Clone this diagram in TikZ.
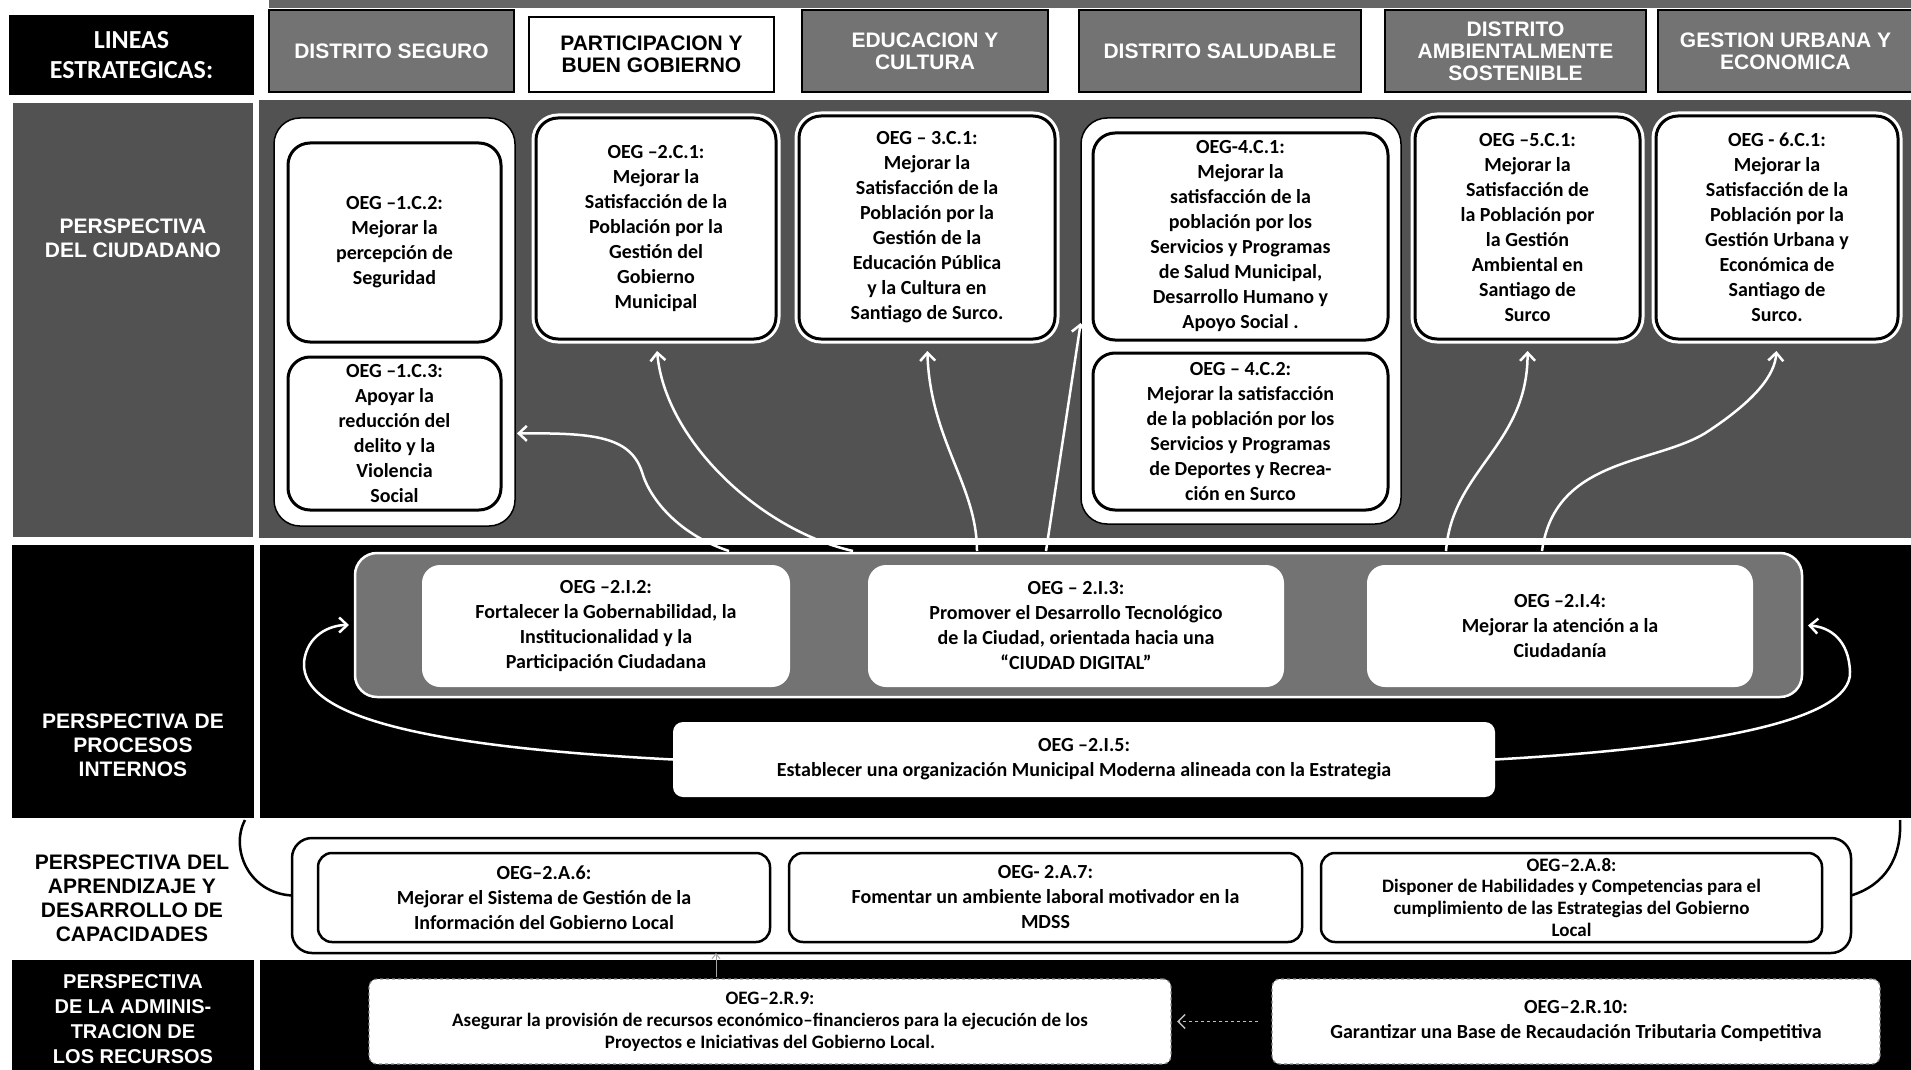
\documentclass[tikz,border=0pt]{standalone}
\usepackage{fontspec}
\setmainfont{Carlito}
\newfontfamily\hdfam{Liberation Sans}
\usetikzlibrary{arrows.meta}
\newcommand\mybx{\fontsize{20pt}{25pt}\selectfont\bfseries}
\newcommand\mysm{\fontsize{19pt}{22pt}\selectfont\bfseries}
\newcommand\myhd{\hdfam\bfseries\fontsize{21pt}{22pt}\selectfont}
\newcommand\mylb{\hdfam\bfseries\fontsize{21pt}{24pt}\selectfont}
\begin{document}
\begin{tikzpicture}[x=1pt,y=-1pt,
  every node/.style={inner sep=0pt,outer sep=0pt},
  hdr/.style={draw=black, line width=2.5pt, fill=black!55, text=white, align=center, font=\myhd, minimum height=82pt},
  lab/.style={align=center, font=\mylb},
  grp/.style={draw=black, line width=1.5pt, fill=white, rounded corners=26pt},
  cbox/.style={draw=black, line width=3pt, fill=white, rounded corners=22pt, align=center, font=\mybx, preaction={draw=white, line width=9pt}},
  igrp/.style={draw=white, line width=2.5pt, fill=black!55, rounded corners=22pt},
  ibox/.style={fill=white, rounded corners=18pt, align=center, font=\mybx},
  lgrp/.style={draw=black, line width=2.5pt, fill=white, rounded corners=20pt},
  lbox/.style={draw=black, line width=2.5pt, fill=white, rounded corners=14pt, align=center, font=\mybx},
  rbox/.style={draw=black!45, dashed, line width=1.2pt, fill=white, rounded corners=8pt, align=center, font=\mybx},
  warr/.style={draw=white, line width=2.5pt, -{Straight Barb[length=8pt,width=15pt]}},
  bcurve/.style={draw=black, line width=2.5pt}
]
\useasboundingbox (0,0) rectangle (1911,1070);
% background regions
\fill[black!60] (269,0) rectangle (1911,8);
\fill[black!68] (259,100) rectangle (1911,538);
\fill[black] (260,545) rectangle (1911,818);
\fill[black] (260,960) rectangle (1911,1070);

% header row
\node[fill=black, minimum width=245pt, minimum height=80pt, text=white, align=center,
      font=\fontsize{26pt}{30pt}\selectfont\bfseries] (lin) at (131.5,55) {LINEAS\\ESTRATEGICAS:};
\node[hdr, minimum width=245pt] (h1) at (391.5,51) {DISTRITO SEGURO};
\node[hdr, fill=white, text=black, minimum width=245pt, minimum height=75pt] (h2) at (651.5,54.5) {PARTICIPACION Y\\BUEN GOBIERNO};
\node[hdr, minimum width=246pt] (h3) at (925,51) {EDUCACION Y\\CULTURA};
\node[hdr, minimum width=282pt] (h4) at (1220,51) {DISTRITO SALUDABLE};
\node[hdr, minimum width=261pt] (h5) at (1515.5,51) {DISTRITO\\AMBIENTALMENTE\\SOSTENIBLE};
\node[hdr, minimum width=255pt] (h6) at (1785.5,51) {GESTION URBANA Y\\ECONOMICA};

% perspective labels
\node[fill=black!68, minimum width=240pt, minimum height=434pt] (pcbox) at (133,320) {};
\node[lab, text=white] (pct) at (133,238) {PERSPECTIVA\\DEL CIUDADANO};
\node[fill=black, minimum width=242pt, minimum height=273pt] (pibox) at (133,681.5) {};
\node[lab, text=white] (pit) at (133,745) {PERSPECTIVA DE\\PROCESOS\\INTERNOS};
\node[lab, text=black] (pat) at (132,898) {PERSPECTIVA DEL\\APRENDIZAJE Y\\DESARROLLO DE\\CAPACIDADES};
\node[fill=black, minimum width=242pt, minimum height=110pt] (prbox) at (133,1015) {};
\node[lab, text=white, font=\hdfam\bfseries\fontsize{20pt}{25pt}\selectfont] (prt) at (133,1019) {PERSPECTIVA\\DE LA ADMINIS-\\TRACION DE\\LOS RECURSOS};

% citizen perspective
\node[grp, minimum width=241pt, minimum height=408pt] (g1) at (394.5,322) {};
\node[cbox, minimum width=213pt, minimum height=199pt] (c12) at (394.5,242.5) {OEG –1.C.2:\\Mejorar la\\percepción de\\Seguridad};
\node[cbox, minimum width=213pt, minimum height=153pt] (c13) at (394.5,433.5) {OEG –1.C.3:\\Apoyar la\\reducción del\\delito y la\\Violencia\\Social};
\node[cbox, minimum width=240pt, minimum height=221pt] (c21) at (656,228.5) {OEG –2.C.1:\\Mejorar la\\Satisfacción de la\\Población por la\\Gestión del\\Gobierno\\Municipal};
\node[cbox, minimum width=256pt, minimum height=223pt] (c31) at (927,227.5) {OEG – 3.C.1:\\Mejorar la\\Satisfacción de la\\Población por la\\Gestión de la\\Educación Pública\\y la Cultura en\\Santiago de Surco.};
\node[grp, minimum width=320pt, minimum height=406pt] (g4) at (1241,321) {};
\node[cbox, minimum width=295pt, minimum height=207pt] (c41) at (1240.5,236.5) {OEG-4.C.1:\\Mejorar la\\satisfacción de la\\población por los\\Servicios y Programas\\de Salud Municipal,\\Desarrollo Humano y\\Apoyo Social .};
\node[cbox, minimum width=295pt, minimum height=157pt] (c42) at (1240.5,431.5) {OEG – 4.C.2:\\Mejorar la satisfacción\\de la población por los\\Servicios y Programas\\de Deportes y Recrea-\\ción en Surco};
\node[cbox, minimum width=225pt, minimum height=222pt] (c51) at (1527.5,228) {OEG –5.C.1:\\Mejorar la\\Satisfacción de\\la Población por\\la Gestión\\Ambiental en\\Santiago de\\Surco};
\node[cbox, minimum width=242pt, minimum height=223pt] (c61) at (1777,227.5) {OEG - 6.C.1:\\Mejorar la\\Satisfacción de la\\Población por la\\Gestión Urbana y\\Económica de\\Santiago de\\Surco.};

% internal processes
\node[igrp, minimum width=1447pt, minimum height=144pt] (gI) at (1078.5,625) {};
\node[ibox, minimum width=368pt, minimum height=122pt] (i2) at (606,626) {OEG –2.I.2:\\Fortalecer la Gobernabilidad, la\\Institucionalidad y la\\Participación Ciudadana};
\node[ibox, minimum width=416pt, minimum height=122pt] (i3) at (1076,626) {OEG – 2.I.3:\\Promover el Desarrollo Tecnológico\\de la Ciudad, orientada hacia una\\“CIUDAD DIGITAL”};
\node[ibox, minimum width=386pt, minimum height=122pt] (i4) at (1560,626) {OEG –2.I.4:\\Mejorar la atención a la\\Ciudadanía};
\node[ibox, rounded corners=10pt, minimum width=822pt, minimum height=75pt] (i5) at (1084,759.5) {OEG –2.I.5:\\Establecer una organización Municipal Moderna alineada con la Estrategia};

% learning
\node[lgrp, minimum width=1559pt, minimum height=115pt] (gA) at (1071.5,895.5) {};
\node[lbox, minimum width=452pt, minimum height=89pt] (a6) at (544,897.5) {OEG–2.A.6:\\Mejorar el Sistema de Gestión de la\\Información del Gobierno Local};
\node[lbox, minimum width=513pt, minimum height=89pt] (a7) at (1045.5,897.5) {OEG- 2.A.7:\\Fomentar un ambiente laboral motivador en la\\MDSS};
\node[lbox, font=\mysm, minimum width=501pt, minimum height=89pt] (a8) at (1571.5,897.5) {OEG–2.A.8:\\Disponer de Habilidades y Competencias para el\\cumplimiento de las Estrategias del Gobierno\\Local};

% resources
\node[rbox, font=\mysm, minimum width=802pt, minimum height=85pt] (r9) at (770,1021.5) {OEG–2.R.9:\\Asegurar la provisión de recursos económico–financieros para la ejecución de los\\Proyectos e Iniciativas del Gobierno Local.};
\node[rbox, minimum width=608pt, minimum height=85pt] (r10) at (1576,1021.5) {OEG–2.R.10:\\Garantizar una Base de Recaudación Tributaria Competitiva};

% connectors: internal -> citizen
\coordinate (s1) at (729,551);
\coordinate (s2) at (853,551);
\coordinate (s3) at (977,551);
\coordinate (s4) at (1046,551);
\coordinate (s5) at (1446,551);
\coordinate (s6) at (1542,551);
\draw[warr, shorten >=16pt] (s1) .. controls (680,535) and (650,500) .. (642,472) .. controls (630,435) and (590,433) .. (c13.east);
\draw[warr, shorten >=12pt] (s2) .. controls (760,530) and (665,440) .. (c21.south);
\draw[warr, shorten >=12pt] (s3) .. controls (977,485) and (930,440) .. (c31.south);
\draw[warr, shorten >=2pt] (s4) -- (g4.west);
\draw[warr, shorten >=12pt] (s5) .. controls (1452,470) and (1528,445) .. (c51.south);
\draw[warr, shorten >=12pt] (s6) .. controls (1555,455) and (1660,465) .. (1710,430) .. controls (1755,400) and (1775,375) .. (c61.south);

% loops in internal processes
\draw[warr, shorten >=6pt] (i5.west) .. controls (450,748) and (300,722) .. (304,662) .. controls (307,635) and (330,625) .. (gI.west);
\draw[warr, shorten >=6pt] (i5.east) .. controls (1700,748) and (1852,722) .. (1850,672) .. controls (1849,640) and (1830,627) .. (gI.east);

% brackets to learning group
\coordinate (bl) at (245,820);
\coordinate (br) at (1900,820);
\draw[bcurve] (bl) .. controls (230,848) and (248,893) .. (gA.west);
\draw[bcurve] (br) .. controls (1902,858) and (1885,885) .. (gA.east);

% resources connectors
\draw[draw=black!25, line width=1.5pt, dashed, -{Straight Barb[length=7pt,width=14pt]}, shorten >=6pt, shorten <=14pt] (r10.west) -- (r9.east);
\coordinate (t1) at (716,977);
\draw[draw=black!35, line width=1pt, -{Straight Barb[length=5pt,width=8pt]}] (t1) -- (t1 |- gA.south);
\end{tikzpicture}
\end{document}
